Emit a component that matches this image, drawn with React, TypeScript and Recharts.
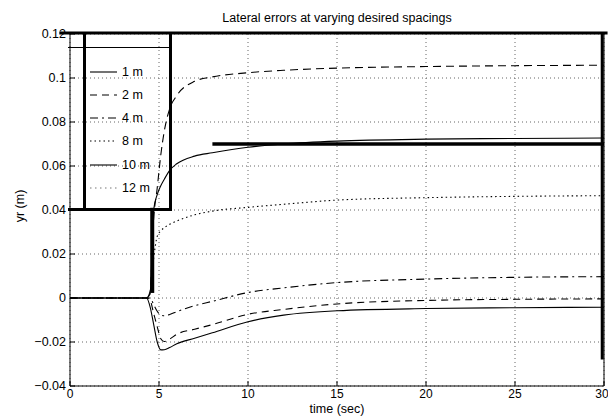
import React from 'react';
import { LineChart, Line, XAxis, YAxis, CartesianGrid, ReferenceLine } from 'recharts';

// time samples (sec) shared by every run
const times = [0, 4.3, 4.5, 4.7, 4.9, 5.1, 5.3, 5.6, 6, 7, 8, 10, 12, 15, 20, 25, 30];

// lateral error yr (m)
const err1m = [0, 0, -0.004, -0.012, -0.02, -0.0236, -0.0235, -0.0225, -0.0208, -0.0183, -0.0158, -0.0108, -0.0078, -0.0058, -0.0048, -0.0044, -0.0042];
const err2m = [0, 0, -0.001, -0.007, -0.013, -0.0185, -0.0198, -0.0187, -0.0165, -0.0142, -0.0121, -0.0074, -0.0052, -0.0027, -0.0011, -0.0006, -0.0004];
const err4m = [0, 0, 0, -0.003, -0.006, -0.0078, -0.0081, -0.0075, -0.0062, -0.0035, -0.0015, 0.0025, 0.0046, 0.007, 0.0086, 0.0094, 0.0097];
const err8m = [0, 0, 0.002, 0.018, 0.028, 0.0305, 0.032, 0.0335, 0.035, 0.0378, 0.0395, 0.0412, 0.0426, 0.0445, 0.0456, 0.0462, 0.0465];
const err10m = [0, 0, 0.002, 0.04, 0.047, 0.051, 0.054, 0.058, 0.061, 0.0645, 0.066, 0.0685, 0.07, 0.0713, 0.0722, 0.0725, 0.0727];
const err12m = [0, 0, 0.003, 0.036, 0.05, 0.065, 0.076, 0.086, 0.092, 0.0985, 0.1005, 0.1024, 0.1035, 0.1045, 0.1052, 0.1056, 0.1058];

const xTicks = [0, 5, 10, 15, 20, 25, 30];
const yTicks = [-0.04, -0.02, 0, 0.02, 0.04, 0.06, 0.08, 0.1, 0.12];
const yTickLabels = ['\u22120.04', '\u22120.02', '0', '0.02', '0.04', '0.06', '0.08', '0.1', '0.12'];

const FONT = '"Liberation Sans", Arial, Helvetica, sans-serif';

const series = [
  { key: 'm1', name: '1 m', values: err1m, dash: undefined as string | undefined, legendDash: undefined as string | undefined, legendColor: '#000' },
  { key: 'm2', name: '2 m', values: err2m, dash: '7 5', legendDash: '7 5', legendColor: '#000' },
  { key: 'm4', name: '4 m', values: err4m, dash: '8 4 2 4', legendDash: '8 4 2 4', legendColor: '#000' },
  { key: 'm8', name: '8 m', values: err8m, dash: '1.5 3', legendDash: '1.5 3', legendColor: '#000' },
  { key: 'm10', name: '10 m', values: err10m, dash: undefined, legendDash: undefined, legendColor: '#000' },
  { key: 'm12', name: '12 m', values: err12m, dash: '8 5', legendDash: '1.5 3.5', legendColor: '#777' },
];

const data = times.map((t, i) => {
  const row: Record<string, number> = { t };
  series.forEach((s) => {
    row[s.key] = s.values[i];
  });
  return row;
});

function LegendBox() {
  return (
    <div
      style={{
        position: 'absolute',
        left: 68,
        top: 33,
        width: 104,
        height: 178,
        boxSizing: 'border-box',
        borderRight: '3px solid #000',
        borderBottom: '3px solid #000',
      }}
    >
      <div style={{ position: 'absolute', left: 15, top: 0, width: 3, height: 175, background: '#000' }} />
      <div style={{ position: 'absolute', left: 0, top: 14, width: 101, height: 1, background: '#000' }} />
      {series.map((s, i) => {
        const y = 38.5 + i * 23.3;
        return (
          <div key={s.key} style={{ position: 'absolute', left: 22, top: y - 8, height: 16, display: 'flex', alignItems: 'center' }}>
            <svg width={28} height={16} style={{ display: 'block' }}>
              <line x1={0} y1={8} x2={27} y2={8} stroke={s.legendColor} strokeWidth={1.1} strokeDasharray={s.legendDash} />
            </svg>
            <span style={{ marginLeft: 4, fontFamily: FONT, fontSize: 12.5, lineHeight: '16px', color: '#000' }}>{s.name}</span>
          </div>
        );
      })}
    </div>
  );
}

export default function App() {
  return (
    <div style={{ position: 'absolute', left: 0, top: 0, width: 608, height: 416, background: '#fff' }}>
      <LineChart width={608} height={416} data={data} margin={{ top: 34, right: 4, bottom: 0, left: 0 }}>
        <CartesianGrid stroke="#666" strokeDasharray="1 3" />
        <XAxis
          type="number"
          dataKey="t"
          domain={[0, 30]}
          ticks={xTicks}
          height={30}
          tickSize={-5}
          tickMargin={8}
          axisLine={{ stroke: '#000' }}
          tickLine={{ stroke: '#000' }}
          tick={{ fill: '#000', fontSize: 12, fontFamily: FONT }}
        />
        <YAxis
          type="number"
          domain={[-0.04, 0.12]}
          ticks={yTicks}
          width={70}
          tickSize={-5}
          tickMargin={9}
          axisLine={{ stroke: '#000' }}
          tickLine={{ stroke: '#000' }}
          tick={{ fill: '#000', fontSize: 12.5, fontFamily: FONT }}
          tickFormatter={(v: number) => yTickLabels[yTicks.indexOf(v)] ?? String(v)}
        />
        {series.map((s) => (
          <Line
            key={s.key}
            type="monotone"
            dataKey={s.key}
            name={s.name}
            stroke="#000"
            strokeWidth={1.1}
            strokeDasharray={s.dash}
            dot={false}
            isAnimationActive={false}
          />
        ))}
        <ReferenceLine segment={[{ x: 30, y: -0.04 }, { x: 30, y: 0.12 }]} stroke="#000" strokeWidth={1} />
        <ReferenceLine segment={[{ x: 29.9, y: -0.028 }, { x: 29.9, y: 0.12 }]} stroke="#000" strokeWidth={3} />
        <ReferenceLine segment={[{ x: -0.6, y: 0.1205 }, { x: 30.2, y: 0.1205 }]} stroke="#000" strokeWidth={3} ifOverflow="visible" />
        <ReferenceLine segment={[{ x: 8, y: 0.07 }, { x: 30, y: 0.07 }]} stroke="#000" strokeWidth={3.5} />
        <ReferenceLine segment={[{ x: 4.62, y: 0.0023 }, { x: 4.62, y: 0.041 }]} stroke="#000" strokeWidth={4} />
      </LineChart>
      <LegendBox />
      <div style={{ position: 'absolute', left: 0, top: 10, width: 674, textAlign: 'center', fontFamily: FONT, fontSize: 12.5, lineHeight: '16px' }}>
        Lateral errors at varying desired spacings
      </div>
      <div style={{ position: 'absolute', left: 0, top: 403, width: 674, textAlign: 'center', fontFamily: FONT, fontSize: 12.5, lineHeight: '12px' }}>
        time (sec)
      </div>
      <div
        style={{
          position: 'absolute',
          left: 20,
          top: 206,
          transform: 'translate(-50%, -50%) rotate(-90deg)',
          whiteSpace: 'nowrap',
          fontFamily: FONT,
          fontSize: 12.5,
          lineHeight: '16px',
        }}
      >
        yr (m)
      </div>
    </div>
  );
}
